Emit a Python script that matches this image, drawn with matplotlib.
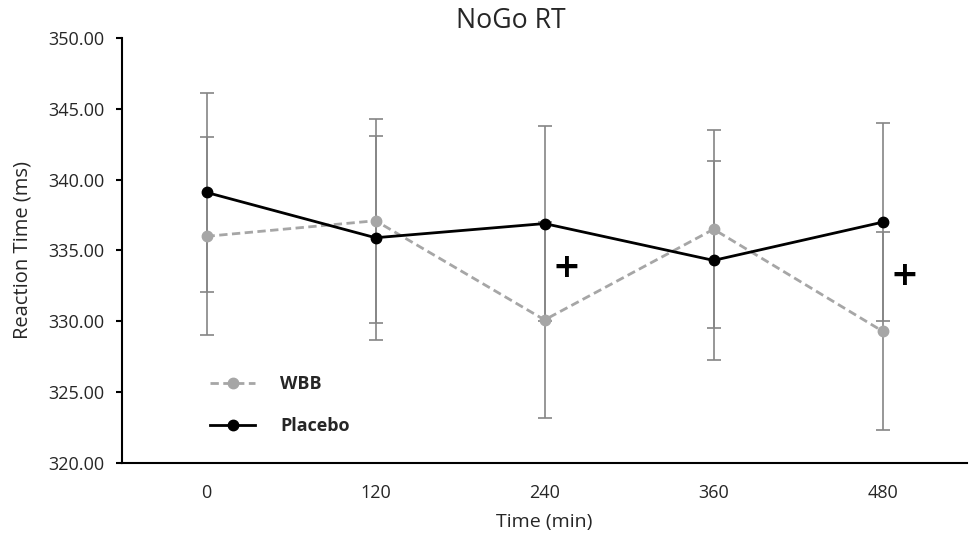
import matplotlib
matplotlib.use("Agg")
import matplotlib.pyplot as plt

# Data
times = ["0", "120", "240", "360", "480"]
wbb = [336.0, 337.1, 330.1, 336.5, 329.3]
wbb_err = [7.0, 7.2, 6.9, 7.0, 7.0]
placebo = [339.1, 335.9, 336.9, 334.3, 337.0]
placebo_err = [7.0, 7.2, 6.9, 7.0, 7.0]

# significance marks (category position, value)
mark_x = [2.13, 4.13]
mark_y = [333.8, 333.2]

plt.rcParams['font.family'] = ['Open Sans', 'DejaVu Sans']
txt = '#262626'

fig = plt.figure(figsize=(9.72, 5.35), dpi=100)
ax = fig.add_axes([0.1255, 0.1346, 0.8695, 0.7944])

x = list(range(len(times)))

# error bars first, underneath the lines
ax.errorbar(x, wbb, yerr=wbb_err, fmt='none', ecolor='#858585',
            elinewidth=1.2, capsize=5, capthick=1.2, zorder=1)
ax.errorbar(x, placebo, yerr=placebo_err, fmt='none', ecolor='#858585',
            elinewidth=1.2, capsize=5, capthick=1.2, zorder=1)

ax.plot(x, wbb, '--o', color='#a6a6a6', lw=2, ms=7.5, dashes=(3, 1.6),
        label='WBB', zorder=2)
ax.plot(x, placebo, '-o', color='black', lw=2, ms=7.5,
        label='Placebo', zorder=3)

for mx, my in zip(mark_x, mark_y):
    ax.text(mx, my, '+', fontsize=24, color='black', ha='center',
            va='center', fontweight='bold', family='DejaVu Sans')

ax.set_xlim(-0.5, len(times) - 0.5)
ax.set_ylim(320, 350)
ax.set_xticks(x)
ax.set_xticklabels(times)
ax.set_yticks([320, 325, 330, 335, 340, 345, 350])
ax.set_yticklabels(['%.2f' % v for v in [320, 325, 330, 335, 340, 345, 350]])

ax.spines['top'].set_visible(False)
ax.spines['right'].set_visible(False)
ax.spines['left'].set_linewidth(1.5)
ax.spines['bottom'].set_linewidth(1.5)
ax.tick_params(axis='x', length=0, pad=15, labelsize=13, labelcolor=txt)
ax.tick_params(axis='y', length=4.5, width=1.5, pad=8, labelsize=13,
               labelcolor=txt)

ax.set_xlabel('Time (min)', fontsize=14, color=txt)
ax.xaxis.set_label_coords(0.5, -0.139)
ax.xaxis.label.set_va('center')
ax.set_ylabel('Reaction Time (ms)', fontsize=14.5, color=txt)
ax.yaxis.set_label_coords(-0.118, 0.5)
ax.yaxis.label.set_va('center')

fig.text(511 / 972, 1 - 21 / 535, 'NoGo RT', fontsize=19.2, color=txt,
         ha='center', va='center')

leg = ax.legend(loc='lower left', bbox_to_anchor=(0.085, 0.028), frameon=False,
                handlelength=2.5, handletextpad=1.4, labelspacing=1.3,
                prop={'weight': 'bold', 'size': 13})
for t in leg.get_texts():
    t.set_color(txt)

fig.savefig('out.png', dpi=100)
